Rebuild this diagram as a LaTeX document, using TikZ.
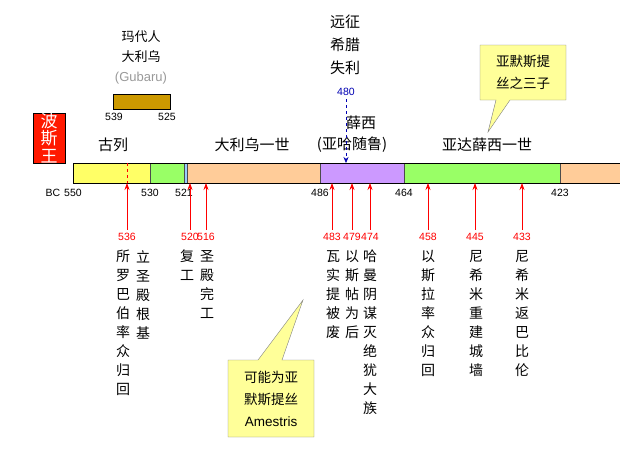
\documentclass[tikz,border=0pt]{standalone}
\usepackage{fontspec}
\setmainfont{Liberation Sans}
\newfontfamily\cjk{Noto Sans CJK SC}
\usetikzlibrary{arrows.meta}
\definecolor{ylw}{HTML}{FFFF66}
\definecolor{grn}{HTML}{99FF66}
\definecolor{org}{HTML}{FFCC99}
\definecolor{pur}{HTML}{CC99FF}
\definecolor{blu}{HTML}{99CCFF}
\definecolor{brn}{HTML}{CC9900}
\definecolor{note}{HTML}{FFFF99}
\begin{document}
\begin{tikzpicture}[x=1pt,y=-1pt,
  seg/.style={draw=black!70,line width=0.8pt},
  yr/.style={font=\fontsize{10.5}{10}\selectfont},
  ev/.style={red,-{Stealth[length=7pt,width=5pt]},line width=0.7pt},
  evy/.style={red,font=\fontsize{10.5}{10}\selectfont},
  col/.style={font=\cjk\fontsize{14}{19}\selectfont,align=center,anchor=north,text width=15pt,inner sep=0pt},
  lab/.style={font=\cjk\fontsize{15}{15}\selectfont,align=center},
  note/.style={fill=note,draw=gray}]
\useasboundingbox (0,0) rectangle (629,456);
% bar
\fill[org] (560,163) rectangle (620,183);
\draw[seg,fill=ylw] (73,163) rectangle (150,183);
\draw[seg,fill=grn] (150,163) rectangle (184,183);
\draw[seg,fill=blu] (184,163) rectangle (187,183);
\draw[seg,fill=org] (187,163) rectangle (320,183);
\draw[seg,fill=pur] (320,163) rectangle (404,183);
\draw[seg,fill=grn] (404,163) rectangle (560,183);
\draw[line width=0.8pt] (73,163) -- (620,163) (73,183) -- (620,183) (73,163) -- (73,183);
\draw[red,dashed] (127,163) -- (127,183);
% king box
\node[fill=red!80!orange,draw=black,minimum width=32pt,minimum height=50pt,inner sep=0pt,align=center,text=white,font=\cjk\fontsize{17}{17.5}\selectfont] (king) at (49,138) {波\\斯\\王};
% year labels
\node[yr] (bc) at (53,193) {BC};
\node[yr] (y550) at (73,193) {550};
\node[yr] (y530) at (150,193) {530};
\node[yr] (y521) at (184,193) {521};
\node[yr] (y486) at (320,193) {486};
\node[yr] (y464) at (404,193) {464};
\node[yr] (y423) at (560,193) {423};
% reign labels
\node[lab] (kyros) at (113,145) {古列};
\node[lab] (dar) at (252,145) {大利乌一世};
\node[lab,font=\cjk\fontsize{15}{21}\selectfont] (xer) at (352,134) {\hspace*{1.2em}薛西\\(亚哈随鲁)};
\node[lab] (art) at (487,145) {亚达薛西一世};
% Gubaru
\node[lab,font=\cjk\fontsize{13}{20}\selectfont] (gub) at (141,57) {玛代人\\大利乌\\{\color{gray!80}\fontspec{Liberation Sans}(Gubaru)}};
\draw[fill=brn,draw=black] (113,94) rectangle (170,109);
\node[yr] (g539) at (114,117) {539};
\node[yr] (g525) at (167,117) {525};
% Greece
\node[lab,font=\cjk\fontsize{15}{23}\selectfont] (gr) at (345,45) {远征\\希腊\\失利};
\node[yr,blue!70!black] (y480) at (346,92) {480};
\coordinate (b480) at (346,163);
\draw[blue!70!black,dashed,-{Stealth[length=6pt,width=5pt]}] (y480.south) -- (b480);
% events
\foreach \n/\x in {536/127,520/190,516/206,483/332,479/352,474/370,458/428,445/475,433/522}{
  \node[evy] (e\n) at (\x,237) {\n};
  \coordinate (t\n) at (\x,183);
  \draw[ev] (e\n.north) -- (t\n);
}
\node[col] (c1) at (123,250) {所\\罗\\巴\\伯\\率\\众\\归\\回};
\node[col] (c2) at (143,250) {立\\圣\\殿\\根\\基};
\node[col] (c3) at (187,250) {复\\工};
\node[col] (c4) at (207,250) {圣\\殿\\完\\工};
\node[col] (c5) at (333,250) {瓦\\实\\提\\被\\废};
\node[col] (c6) at (352,250) {以\\斯\\帖\\为\\后};
\node[col] (c7) at (370,250) {哈\\曼\\阴\\谋\\灭\\绝\\犹\\大\\族};
\node[col] (c8) at (428,250) {以\\斯\\拉\\率\\众\\归\\回};
\node[col] (c9) at (476,250) {尼\\希\\米\\重\\建\\城\\墙};
\node[col] (c10) at (522,250) {尼\\希\\米\\返\\巴\\比\\伦};
% callouts
\draw[note] (480,45) -- (566,45) -- (566,100) -- (510,100) -- (488,132) -- (496,100) -- (480,100) -- cycle;
\node[lab,font=\cjk\fontsize{13.5}{22}\selectfont] (n1) at (523,72) {亚默斯提\\丝之三子};
\draw[note] (228,360) -- (258,360) -- (303,300) -- (282,360) -- (314,360) -- (314,437) -- (228,437) -- cycle;
\node[lab,font=\cjk\fontsize{13.5}{22}\selectfont] (n2) at (271,399) {可能为亚\\默斯提丝\\{\fontspec{Liberation Sans}Amestris}};
\end{tikzpicture}
\end{document}
